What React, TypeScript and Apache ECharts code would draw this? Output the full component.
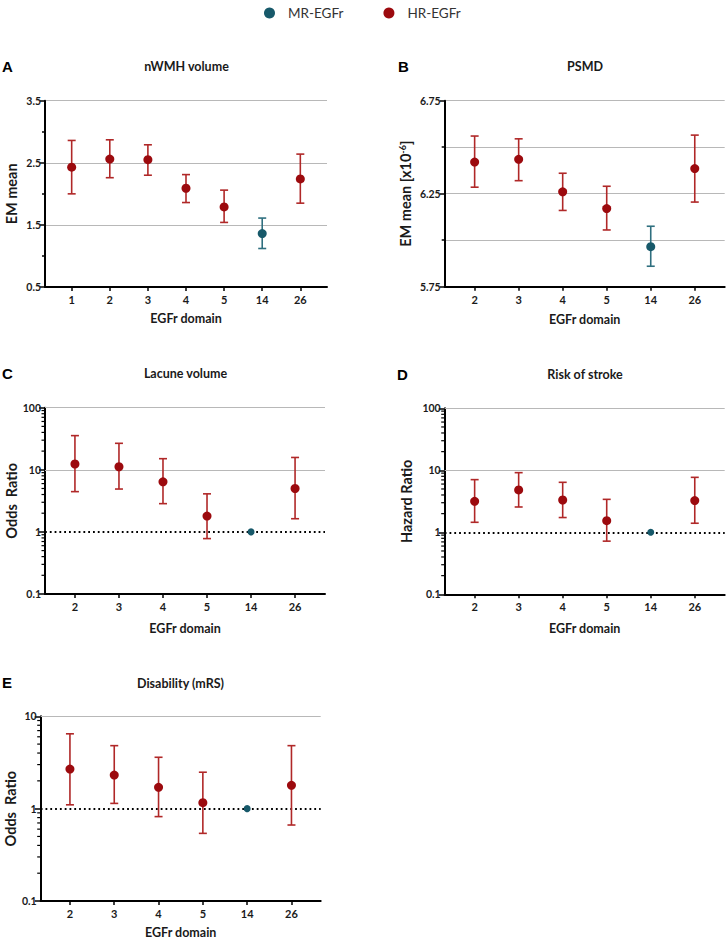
import React, { useEffect, useRef } from "react";
import * as echarts from "echarts";

// ---------- data ----------
const refDomain = "14"; // MR-EGFr reference domain
const refLine = 1; // null effect line for ratio panels

const catsA = ["1", "2", "3", "4", "5", "14", "26"];
const meanA = [2.43, 2.56, 2.55, 2.09, 1.79, 1.36, 2.24];
const lowA = [2.0, 2.26, 2.3, 1.86, 1.54, 1.12, 1.85];
const highA = [2.86, 2.87, 2.79, 2.31, 2.06, 1.61, 2.64];

const catsB = ["2", "3", "4", "5", "14", "26"];
const meanB = [6.42, 6.435, 6.26, 6.17, 5.965, 6.385];
const lowB = [6.285, 6.32, 6.16, 6.055, 5.86, 6.205];
const highB = [6.56, 6.545, 6.36, 6.29, 6.075, 6.565];

const catsC = ["2", "3", "4", "5", "14", "26"];
const meanC = [12.4, 11.2, 6.4, 1.8, 1, 5.0];
const lowC = [4.45, 4.9, 2.85, 0.78, null, 1.63];
const highC = [35.5, 26.7, 15.1, 4.1, null, 15.8];

const catsD = ["2", "3", "4", "5", "14", "26"];
const meanD = [3.16, 4.82, 3.32, 1.54, 1, 3.25];
const lowD = [1.45, 2.56, 1.73, 0.72, null, 1.4];
const highD = [7.07, 9.16, 6.4, 3.4, null, 7.7];

const catsE = ["2", "3", "4", "5", "14", "26"];
const meanE = [2.68, 2.31, 1.7, 1.16, 1, 1.79];
const lowE = [1.1, 1.14, 0.82, 0.54, null, 0.665];
const highE = [6.46, 4.81, 3.6, 2.48, null, 4.81];

const legendNames = ["MR-EGFr", "HR-EGFr"];

// ---------- styles ----------
const HR = "#9c0a0e";
const HR_BAR = "#b02828";
const MR = "#17596a";
const MR_BAR = "#2f6f7f";
const GRID = "#b8b8b8";
const TXT = "#1a1a1a";
const FONT = "Lato, 'Open Sans', sans-serif";

type Panel = {
  letter: string;
  title: string;
  cats: string[];
  mean: number[];
  low: (number | null)[];
  high: (number | null)[];
  grid: { left: number; top: number; width: number; height: number };
  pad: number;
  log: boolean;
  yMin: number;
  yMax: number;
  yName: string;
  yNameGap: number;
  xNameGap: number;
  titlePos: [number, number];
  letterPos: [number, number];
  markerSize: number;
  refSize: number;
};

const panels: Panel[] = [
  {
    letter: "A", title: "nWMH volume", cats: catsA, mean: meanA, low: lowA, high: highA,
    grid: { left: 45, top: 100.7, width: 282, height: 186.3 }, pad: 0.7, log: false,
    yMin: 0.5, yMax: 3.5, yName: "EM mean", yNameGap: 26, xNameGap: 25,
    titlePos: [186.5, 66], letterPos: [2, 66], markerSize: 9, refSize: 9,
  },
  {
    letter: "B", title: "PSMD", cats: catsB, mean: meanB, low: lowB, high: highB,
    grid: { left: 444.7, top: 100.7, width: 280, height: 186 }, pad: 0.68, log: false,
    yMin: 5.75, yMax: 6.75, yName: "EM mean [x10{sup|-6}]", yNameGap: 31, xNameGap: 26,
    titlePos: [585, 66], letterPos: [398, 66], markerSize: 9, refSize: 9,
  },
  {
    letter: "C", title: "Lacune volume", cats: catsC, mean: meanC, low: lowC, high: highC,
    grid: { left: 45, top: 407.7, width: 280, height: 186.3 }, pad: 0.68, log: true,
    yMin: 0.1, yMax: 100, yName: "Odds  Ratio", yNameGap: 25, xNameGap: 28,
    titlePos: [185.5, 373.5], letterPos: [2, 373], markerSize: 9, refSize: 7,
  },
  {
    letter: "D", title: "Risk of stroke", cats: catsD, mean: meanD, low: lowD, high: highD,
    grid: { left: 444.7, top: 408.3, width: 280, height: 186 }, pad: 0.68, log: true,
    yMin: 0.1, yMax: 100, yName: "Hazard Ratio", yNameGap: 31, xNameGap: 28,
    titlePos: [585, 374], letterPos: [397, 374], markerSize: 9, refSize: 7,
  },
  {
    letter: "E", title: "Disability (mRS)", cats: catsE, mean: meanE, low: lowE, high: highE,
    grid: { left: 40.7, top: 716.3, width: 280, height: 186.4 }, pad: 0.66, log: true,
    yMin: 0.1, yMax: 10, yName: "Odds  Ratio", yNameGap: 23, xNameGap: 25,
    titlePos: [180.5, 683], letterPos: [2, 682], markerSize: 9, refSize: 7,
  },
];

function logMinorTicks(min: number, max: number) {
  const out: number[] = [];
  for (let d = min; d < max * 0.999; d *= 10) {
    for (let k = 2; k <= 9; k++) out.push(+(k * d).toPrecision(3));
  }
  return out;
}

function buildOption() {
  const grids: any[] = [];
  const xAxes: any[] = [];
  const yAxes: any[] = [];
  const series: any[] = [];
  const graphics: any[] = [];

  panels.forEach((p, gi) => {
    grids.push({ ...p.grid });
    const n = p.cats.length;
    const idx = p.cats.map((_, k) => k);
    xAxes.push({
      type: "value",
      gridIndex: gi,
      min: -p.pad,
      max: n - 1 + p.pad,
      axisLine: { show: true, onZero: false, lineStyle: { color: "#000", width: 2 } },
      axisTick: { show: true, customValues: idx, length: 4, lineStyle: { color: "#000", width: 1.5 } },
      splitLine: { show: false },
      axisLabel: {
        customValues: idx,
        formatter: (v: number) => p.cats[Math.round(v)] ?? "",
        color: TXT, fontWeight: "bold", fontSize: 11, fontFamily: FONT, margin: 7,
      },
      name: "EGFr domain",
      nameLocation: "middle",
      nameGap: p.xNameGap,
      nameTextStyle: { color: TXT, fontWeight: "bold", fontSize: 12.5, fontFamily: FONT },
    });

    const yIndex = yAxes.length;
    const nameTextStyle = {
      color: TXT, fontWeight: "bold", fontSize: 14.5, fontFamily: FONT,
      rich: { sup: { fontSize: 9, fontWeight: "bold", color: TXT, fontFamily: FONT, verticalAlign: "top", padding: [0, 0, 7, 0] } },
    };
    const labelStyle = { color: TXT, fontWeight: "bold", fontSize: 10.5, fontFamily: FONT, margin: 4 };
    if (!p.log) {
      const isA = p.letter === "A";
      yAxes.push({
        type: "value",
        gridIndex: gi,
        min: p.yMin,
        max: p.yMax,
        interval: isA ? 1 : 0.5,
        axisLine: { show: true, onZero: false, lineStyle: { color: "#000", width: 2 } },
        axisTick: { show: true, length: 5, lineStyle: { color: "#000", width: 1.5 } },
        minorTick: { show: true, splitNumber: 2, length: 3, lineStyle: { color: "#000", width: 1.5 } },
        splitLine: { show: true, lineStyle: { color: GRID, width: 1 } },
        minorSplitLine: { show: !isA, lineStyle: { color: GRID, width: 1 } },
        axisLabel: { ...labelStyle, formatter: (v: number) => (isA ? v.toFixed(1) : v.toFixed(2)) },
        name: p.yName, nameLocation: "middle", nameGap: p.yNameGap, nameRotate: 90, nameTextStyle,
      });
    } else {
      yAxes.push({
        type: "log",
        logBase: 10,
        gridIndex: gi,
        min: p.yMin,
        max: p.yMax,
        axisLine: { show: true, onZero: false, lineStyle: { color: "#000", width: 2 } },
        axisTick: { show: true, length: 6, lineStyle: { color: "#000", width: 1.5 } },
        splitLine: { show: false },
        axisLabel: { ...labelStyle, formatter: (v: number) => (v < 1 ? String(+v.toFixed(1)) : String(Math.round(v))) },
        name: p.yName, nameLocation: "middle", nameGap: p.yNameGap, nameRotate: 90, nameTextStyle,
      });

      // minor log ticks (2..9 of each decade), placed through the log axis
      series.push({
        type: "custom",
        xAxisIndex: gi,
        yAxisIndex: yIndex,
        silent: true,
        clip: false,
        z: 6,
        encode: { x: 0, y: 1 },
        data: logMinorTicks(p.yMin, p.yMax).map((v) => [-p.pad, v]),
        renderItem: (_params: any, api: any) => {
          const pt = api.coord([api.value(0), api.value(1)]);
          return {
            type: "line",
            shape: { x1: pt[0] - 3.5, y1: pt[1], x2: pt[0], y2: pt[1] },
            style: { stroke: "#000", lineWidth: 1.2 },
          };
        },
      });

      // gridlines / reference line
      const lines: any[] = [];
      for (let v = 10; v <= p.yMax * 1.001; v *= 10) {
        lines.push({ yAxis: v, lineStyle: { color: GRID, width: 1, type: "solid" } });
      }
      lines.push({ yAxis: refLine, lineStyle: { color: "#000", width: 1.8, type: [1.8, 3] } });
      series.push({
        type: "line",
        xAxisIndex: gi,
        yAxisIndex: yIndex,
        data: [],
        silent: true,
        z: 1,
        markLine: { silent: true, symbol: "none", label: { show: false }, animation: false, data: lines, z: 1 },
      });
    }

    const barData = idx
      .filter((k) => p.low[k] != null && p.high[k] != null)
      .map((k) => [k, p.low[k], p.high[k], p.cats[k] === refDomain ? 1 : 0]);
    series.push({
      type: "custom",
      name: "err" + p.letter,
      xAxisIndex: gi,
      yAxisIndex: yIndex,
      z: 5,
      silent: true,
      encode: { x: 0, y: [1, 2] },
      data: barData,
      renderItem: (_params: any, api: any) => {
        const x = api.value(0);
        const lo = api.coord([x, api.value(1)]);
        const hi = api.coord([x, api.value(2)]);
        const color = api.value(3) ? MR_BAR : HR_BAR;
        const w = 4;
        const st = { stroke: color, lineWidth: 1.6 };
        return {
          type: "group",
          children: [
            { type: "line", shape: { x1: lo[0], y1: lo[1], x2: hi[0], y2: hi[1] }, style: st },
            { type: "line", shape: { x1: hi[0] - w, y1: hi[1], x2: hi[0] + w, y2: hi[1] }, style: st },
            { type: "line", shape: { x1: lo[0] - w, y1: lo[1], x2: lo[0] + w, y2: lo[1] }, style: st },
          ],
        };
      },
    });

    series.push({
      type: "scatter",
      name: "HR-EGFr",
      xAxisIndex: gi,
      yAxisIndex: yIndex,
      z: 10,
      symbol: "circle",
      symbolSize: p.markerSize,
      itemStyle: { color: HR, opacity: 1 },
      data: idx.filter((k) => p.cats[k] !== refDomain).map((k) => [k, p.mean[k]]),
    });
    series.push({
      type: "scatter",
      name: "MR-EGFr",
      xAxisIndex: gi,
      yAxisIndex: yIndex,
      z: 10,
      symbol: "circle",
      symbolSize: p.refSize,
      itemStyle: { color: MR, opacity: 1 },
      data: idx.filter((k) => p.cats[k] === refDomain).map((k) => [k, p.mean[k]]),
    });

    graphics.push({
      type: "text",
      x: p.titlePos[0],
      y: p.titlePos[1],
      style: { text: p.title, align: "center", verticalAlign: "middle", font: `bold 12.5px ${FONT}`, fill: TXT },
    });
    graphics.push({
      type: "text",
      x: p.letterPos[0],
      y: p.letterPos[1],
      style: { text: p.letter, align: "left", verticalAlign: "middle", font: "bold 15px 'Liberation Sans', Arial, sans-serif", fill: "#000" },
    });
  });

  return {
    animation: false,
    backgroundColor: "#fff",
    legend: {
      data: legendNames,
      top: 1,
      left: 259,
      icon: "circle",
      itemWidth: 11,
      itemHeight: 11,
      itemGap: 40,
      selectedMode: false,
      textStyle: { fontSize: 13.5, color: "#333", fontFamily: FONT, padding: [0, 0, 0, 8] },
    },
    grid: grids,
    xAxis: xAxes,
    yAxis: yAxes,
    series,
    graphic: graphics,
  };
}

export default function App() {
  const ref = useRef<HTMLDivElement>(null);
  useEffect(() => {
    if (!ref.current) return;
    const chart = echarts.init(ref.current, undefined, { renderer: "svg" });
    chart.setOption(buildOption() as any);
    return () => chart.dispose();
  }, []);
  return (
    <div
      ref={ref}
      style={{ position: "absolute", left: 0, top: 0, width: 726, height: 940, background: "#fff" }}
    />
  );
}
